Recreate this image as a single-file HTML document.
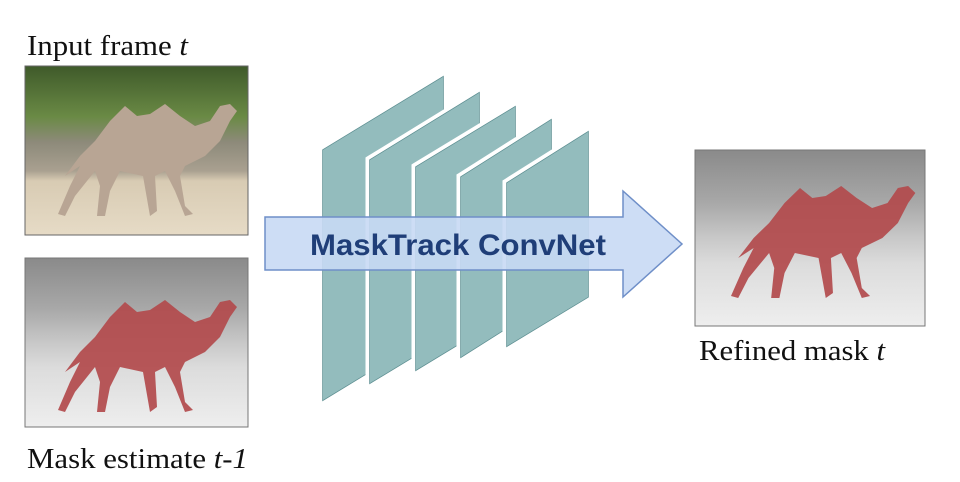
<!DOCTYPE html>
<html><head><meta charset="utf-8"><style>
html,body{margin:0;padding:0;background:#fff;width:960px;height:482px;overflow:hidden}
svg{display:block}
.lbl{font-family:"Liberation Serif",serif;font-size:28px;fill:#111}
</style></head><body>
<svg width="960" height="482" viewBox="0 0 960 482" xmlns="http://www.w3.org/2000/svg">
<defs>
<linearGradient id="photo" x1="0" y1="0" x2="0" y2="1">
<stop offset="0" stop-color="#3f5a2a"/><stop offset="0.3" stop-color="#6a8a45"/>
<stop offset="0.45" stop-color="#8d8a7a"/><stop offset="0.62" stop-color="#a9a090"/>
<stop offset="0.68" stop-color="#d8cbb3"/><stop offset="1" stop-color="#e6dbc6"/>
</linearGradient>
<linearGradient id="gray" x1="0" y1="0" x2="0" y2="1">
<stop offset="0" stop-color="#8a8a8a"/><stop offset="0.3" stop-color="#a8a8a8"/>
<stop offset="0.5" stop-color="#c8c8c8"/><stop offset="0.65" stop-color="#dcdcdc"/>
<stop offset="1" stop-color="#eeeeee"/>
</linearGradient>
<path id="camel" d="M40,110 L55,90 L70,75 L85,55 L100,40 L112,50 L125,48 L140,38 L155,50 L170,60 L185,55 L195,40 L205,38 L212,45 L205,55 L195,75 L180,90 L160,100 L155,110 L160,140 L168,148 L160,150 L150,125 L140,105 L130,110 L132,145 L125,150 L118,110 L95,105 L85,125 L80,150 L72,150 L75,120 L70,105 L50,130 L40,150 L33,148 L45,120 L55,100 Z"/>
</defs>

<text class="lbl" x="27" y="55" textLength="161" lengthAdjust="spacingAndGlyphs">Input frame <tspan font-style="italic">t</tspan></text>
<rect x="25" y="66" width="223" height="169" fill="url(#photo)" stroke="#666" stroke-width="1"/>
<use href="#camel" x="25" y="66" fill="#b8a594"/>

<rect x="25" y="258" width="223" height="169" fill="url(#gray)" stroke="#777" stroke-width="1"/>
<use href="#camel" transform="translate(25,262)" fill="#b24a4c" opacity="0.92"/>
<text class="lbl" x="27" y="468" textLength="221" lengthAdjust="spacingAndGlyphs">Mask estimate <tspan font-style="italic">t-1</tspan></text>

<rect x="695" y="150" width="230" height="176" fill="url(#gray)" stroke="#777" stroke-width="1"/>
<use href="#camel" transform="translate(697,148) scale(1.03,1.0)" fill="#b24a4c" opacity="0.92"/>
<text class="lbl" x="699" y="360" textLength="186" lengthAdjust="spacingAndGlyphs">Refined mask <tspan font-style="italic">t</tspan></text>

<g fill="#93bcbd" stroke="#5e8f92" stroke-width="1.5" paint-order="stroke">
<polygon points="323,150 443,77 443,327 323,400"/>
<polygon points="370,160 479,93 479,317 370,383" stroke="#fff" stroke-width="9"/>
<polygon points="370,160 479,93 479,317 370,383"/>
<polygon points="416,167 515,107 515,310 416,370" stroke="#fff" stroke-width="9"/>
<polygon points="416,167 515,107 515,310 416,370"/>
<polygon points="461,177 551,120 551,300 461,357" stroke="#fff" stroke-width="9"/>
<polygon points="461,177 551,120 551,300 461,357"/>
<polygon points="507,183 588,132 588,297 507,346" stroke="#fff" stroke-width="9"/>
<polygon points="507,183 588,132 588,297 507,346"/>
</g>

<polygon points="265,217 623,217 623,191 682,244 623,297 623,270 265,270" fill="#c8d9f4" fill-opacity="0.9" stroke="#6f8fc8" stroke-width="1.5"/>
<text x="458" y="255" text-anchor="middle" font-family="Liberation Sans,sans-serif" font-weight="bold" font-size="30" fill="#1f3e78" textLength="296" lengthAdjust="spacingAndGlyphs">MaskTrack ConvNet</text>
</svg>
</body></html>
